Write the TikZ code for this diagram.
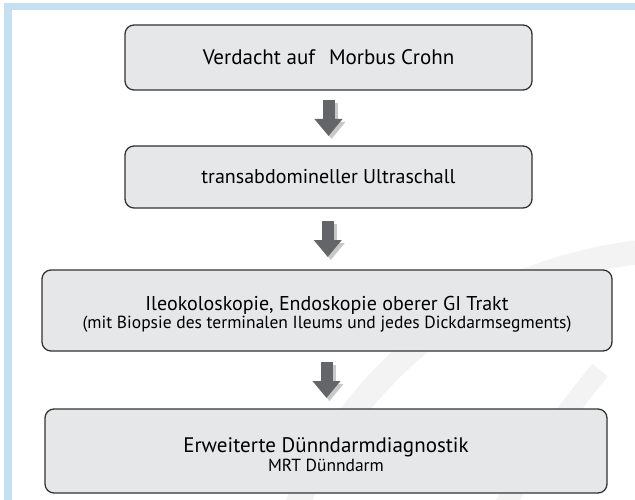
\documentclass[tikz,border=0pt]{standalone}
\usepackage{fontspec}
\setmainfont{PT Sans}
\usetikzlibrary{calc,arrows.meta}
\definecolor{framblue}{HTML}{C5E1F1}
\definecolor{boxgray}{HTML}{E6E7E8}
\definecolor{boxline}{HTML}{333333}
\definecolor{arrowgray}{HTML}{646569}
\definecolor{shadowgray}{HTML}{C8C8C8}
\definecolor{swoosh}{HTML}{F3F3F3}
\tikzset{stepbox/.style={draw=boxline,fill=boxgray,rounded corners=9pt,line width=1.3pt,align=center,inner sep=0pt},
  bigfont/.style={font=\fontsize{21}{24}\selectfont},
  blockarrow/.style={line width=12pt,-{Triangle[width=27pt,length=17pt]}}}
\begin{document}
\begin{tikzpicture}[x=1pt,y=-1pt]
  \useasboundingbox (0,0) rectangle (635,500);
  \fill[white] (0,0) rectangle (635,500);
  \fill[framblue] (4,3) rectangle (635,10);\fill[framblue] (4,3) rectangle (12,500);
  \draw[swoosh,line width=24pt] (660,250) .. controls (470,265) and (350,380) .. (290,520);
  \draw[swoosh,line width=20pt] (600,370) .. controls (560,420) .. (495,520);
  \node[stepbox,bigfont,minimum width=407pt,minimum height=65pt] (vd) at (328.5,57.5) {Verdacht auf\hspace{14pt}Morbus Crohn};
  \node[stepbox,font=\fontsize{20}{24}\selectfont,minimum width=407pt,minimum height=62pt] (us) at (328.5,177) {transabdomineller Ultraschall};
  \node[stepbox,minimum width=570pt,minimum height=81pt] (ik) at (327,310.5) {{\fontsize{20}{21}\selectfont\rule{0pt}{22pt}Ileokoloskopie, Endoskopie oberer GI Trakt}\\[1pt]{\fontsize{17.5}{19}\selectfont (mit Biopsie des terminalen Ileums und jedes Dickdarmsegments)}};
  \node[stepbox,minimum width=562pt,minimum height=84pt] (dd) at (326,451) {{\fontsize{21}{21}\selectfont\rule{0pt}{23pt}Erweiterte Dünndarmdiagnostik}\\[1pt]{\fontsize{17.5}{19}\selectfont MRT Dünndarm}};
  \foreach \a/\b in {vd/us,us/ik,ik/dd}{
    \draw[blockarrow,shadowgray] ($(\a.south)!.5!(\b.north)+(3,-15)$) -- ($(\a.south)!.5!(\b.north)+(3,21)$);
    \draw[blockarrow,arrowgray] ($(\a.south)!.5!(\b.north)+(0,-18)$) -- ($(\a.south)!.5!(\b.north)+(0,18)$);}
\end{tikzpicture}
\end{document}
